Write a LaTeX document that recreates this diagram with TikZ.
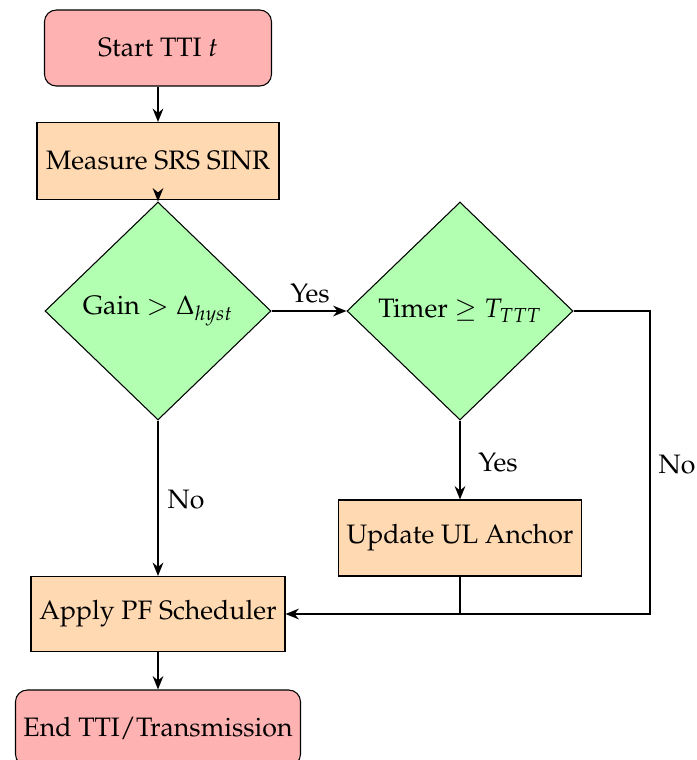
\documentclass[tikz,border=0pt]{standalone}
\usepackage[T1]{fontenc}
\usepackage{mathpazo}
\usetikzlibrary{shapes.geometric,arrows.meta}
\newcommand\pxu{0.375pt}
\tikzset{
  x=0.375pt, y=-0.375pt,
  base/.style={draw=black, inner sep=0pt, align=center, font=\normalsize},
  terminal/.style={base, rounded corners=4.4pt, fill=red!30},
  process/.style={base, fill=orange!30},
  decision/.style={base, diamond, fill=green!30, minimum width=226*\pxu, minimum height=218*\pxu},
  flow/.style={thick, -{Stealth[length=5pt,width=4pt]}},
  link/.style={thick},
  lbl/.style={inner sep=0pt, font=\normalsize}
}
\begin{document}
\begin{tikzpicture}
  \useasboundingbox (0,0) rectangle (697,760);
  \clip (0,0) rectangle (697,760);

  \node[terminal, minimum width=227*\pxu, minimum height=76*\pxu] (start) at (158,48) {Start TTI $t$};
  \node[process, minimum width=242*\pxu, minimum height=77*\pxu] (measure) at (158,161) {Measure SRS SINR};
  \node[decision] (gain) at (158,311) {Gain $>\Delta_{hyst}$};
  \node[decision] (timer) at (460,311) {Timer $\geq T_{TTT}$};
  \node[process, minimum width=243*\pxu, minimum height=76*\pxu] (update) at (460,538) {Update UL Anchor};
  \node[process, minimum width=254*\pxu, minimum height=75*\pxu] (apply) at (158,614) {Apply PF Scheduler};
  \node[terminal, minimum width=285*\pxu, minimum height=76*\pxu] (finish) at (158,728) {End TTI/Transmission};

  \coordinate (corner) at (650,311);
  \coordinate (join) at (update.south |- apply.east);

  \draw[flow] (start) -- (measure);
  \draw[flow] (measure) -- (gain);
  \draw[flow] (gain.east) -- (timer.west);
  \draw[flow] (timer.south) -- (update.north);
  \draw[flow] (gain.south) -- (apply.north);
  \draw[flow] (timer.east) -- (corner) |- (apply.east);
  \draw[link] (update.south) -- (join);
  \draw[flow] (apply) -- (finish);

  \node[lbl] (yes1) at (310,294) {Yes};
  \node[lbl] (no1) at (186,500) {No};
  \node[lbl] (yes2) at (498,463) {Yes};
  \node[lbl] (no2) at (677,465) {No};
\end{tikzpicture}
\end{document}
